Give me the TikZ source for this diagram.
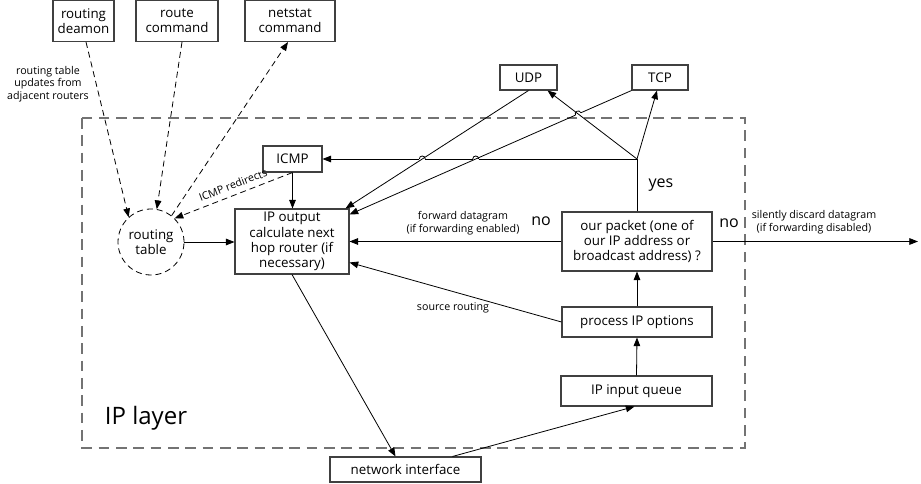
\documentclass[tikz,border=0pt]{standalone}
\usepackage{fontspec}
\setmainfont{Open Sans}
\usetikzlibrary{arrows.meta,calc,intersections}
\begin{document}
\begin{tikzpicture}[x=0.75pt,y=-0.75pt,
  box/.style={draw=black!75, line width=0.8pt, fill=white, inner sep=0pt, align=center, font=\fontsize{10}{11.4}\selectfont},
  conn/.style={line width=0.6pt, -{Triangle[length=6.5pt,width=5pt]}},
  plain/.style={line width=0.6pt},
  dconn/.style={conn, dash pattern=on 4.5pt off 3pt},
  lbl/.style={font=\fontsize{8}{9.5}\selectfont, align=center, inner sep=0pt},
  big/.style={font=\fontsize{12}{14}\selectfont, inner sep=0pt},
  layer/.style={draw=black!55, line width=1pt, dash pattern=on 8pt off 5pt},
  erase/.style={draw=white, line width=1.6pt}]
\useasboundingbox (0,0) rectangle (921,484);

% IP layer frame
\draw[layer] (82,118) rectangle (745,448);
\node[font=\fontsize{18}{20}\selectfont, inner sep=0pt] (iplayer) at (146,418) {IP layer};

% boxes
\node[box, minimum width=61*0.75pt, minimum height=41*0.75pt] (deamon) at (83.5,21) {routing\\deamon};
\node[box, minimum width=82*0.75pt, minimum height=41*0.75pt] (rtcmd) at (177,21) {route\\command};
\node[box, minimum width=90*0.75pt, minimum height=41*0.75pt] (netstat) at (290,21) {netstat\\command};
\node[box, draw=black, dash pattern=on 4.5pt off 3pt, line width=0.6pt, circle, minimum size=66*0.75pt] (rt) at (151,242) {routing\\table};
\node[box, minimum width=59*0.75pt, minimum height=26*0.75pt] (icmp) at (292.5,159) {ICMP};
\node[box, minimum width=114*0.75pt, minimum height=65*0.75pt] (ipo) at (292,241.5) {IP output\\calculate next\\hop router (if\\necessary)};
\node[box, minimum width=57*0.75pt, minimum height=25*0.75pt] (udp) at (528.5,77.5) {UDP};
\node[box, minimum width=56*0.75pt, minimum height=25*0.75pt] (tcp) at (660,77.5) {TCP};
\node[box, minimum width=150*0.75pt, minimum height=59*0.75pt] (pkt) at (637,241.5) {our packet (one of\\our IP address or\\broadcast address) ?};
\node[box, minimum width=150*0.75pt, minimum height=30*0.75pt] (opt) at (637,322) {process IP options};
\node[box, minimum width=151*0.75pt, minimum height=30*0.75pt] (inq) at (636.5,391) {IP input queue};
\node[box, minimum width=151*0.75pt, minimum height=25*0.75pt] (ni) at (405.5,469.5) {network interface};

% coordinates
\coordinate (j) at (637,159);
\coordinate (out) at (918,241.5);
\coordinate (ipoA) at ($(ipo.north east)+(-4,0)$);
\coordinate (ipoB) at ($(ipo.north east)+(0,6)$);
\coordinate (udpT) at ($(udp.south east)+(-10,0)$);
\coordinate (tcpT) at ($(tcp.south)+(-3,0)$);

% paths for crossings
\path[name path=h] (j) -- (icmp.east);
\path[name path=u] (udp.south) -- (ipoA);
\path[name path=t] (tcp.south west) -- (ipoB);
\path[name path=ju] (j) -- (udpT);
\path[name intersections={of=h and u, by=X1}];
\path[name intersections={of=h and t, by=X2}];
\path[name intersections={of=t and ju, by=X3}];

% horizontal line to ICMP with hops
\draw[conn] (j) -- (icmp.east);
\foreach \p in {X1,X2}{
  \draw[erase] ($(\p)+(-3,0)$) -- ($(\p)+(3,0)$);
  \draw[plain] ($(\p)+(-3,0)$) .. controls ($(\p)+(-3,-4)$) and ($(\p)+(3,-4)$) .. ($(\p)+(3,0)$);
}

% UDP / TCP to IP output
\draw[conn] (udp.south) -- (ipoA);
\draw[conn] (tcp.south west) -- (ipoB);
% hop on TCP line
\coordinate (a3) at ($(X3)!2.25pt!(tcp.south west)$);
\coordinate (b3) at ($(X3)!2.25pt!(ipoB)$);
\draw[erase] (a3) -- (b3);
\draw[plain] (a3) .. controls ($(a3)!3pt!-90:(X3)$) and ($(b3)!3pt!90:(X3)$) .. (b3);

% junction arrows
\draw[conn] (j) -- (udpT);
\draw[conn] (j) -- (tcpT);
\draw[plain] (pkt.north) -- (j);
\node[big] (yes) at (661,185) {yes};

% ICMP
\draw[conn] (icmp.south) -- (ipo.north -| icmp.south);
\draw[dconn] (icmp.south) -- (rt.45);
\node[lbl, rotate=21] (redir) at (233,185) {ICMP redirects};

% routing table links
\draw[dconn] ($(deamon.south)+(2.5,0)$) -- (rt.132);
\draw[dconn] ($(rtcmd.south)+(5,0)$) -- (rt.80);
\draw[dconn] (rt.52) -- ($(netstat.south)+(-2,0)$);
\node[lbl] (upd) at (48,84) {routing table\\updates from\\adjacent routers};
\draw[conn] (rt.east) -- (ipo.west |- rt.east);

% our packet
\draw[conn] (pkt.west) -- (ipo.east |- pkt.west);
\node[lbl] (fwd) at (463,223) {forward datagram\\(if forwarding enabled)};
\node[big] (no1) at (541,221) {no};
\draw[conn] (pkt.east) -- (out);
\node[big] (no2) at (729,223) {no};
\node[lbl] (disc) at (814,222) {silently discard datagram\\(if forwarding disabled)};

% options / input
\draw[conn] (opt.north) -- (pkt.south);
\draw[conn] (inq.north) -- (opt.south);
\draw[plain, -{Triangle[length=6.5pt,width=5pt]}] (opt.west) -- ($(ipo.east)+(0,21)$);
\node[lbl] (src) at (453,308) {source routing};

% network interface
\draw[conn] (ipo.south) -- ($(ni.north)+(-10,0)$);
\draw[conn] ($(ni.north)+(47,0)$) -- ($(inq.south)+(-2,0)$);
\end{tikzpicture}
\end{document}
